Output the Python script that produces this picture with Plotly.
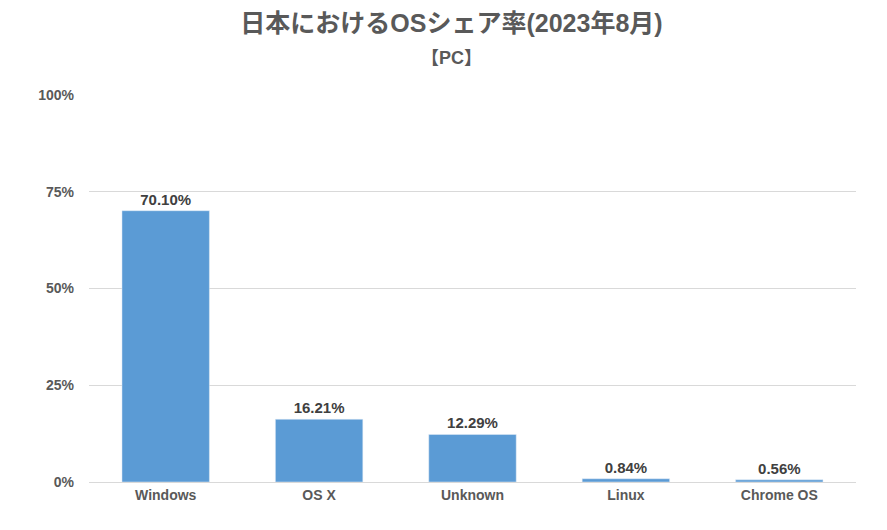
import plotly.graph_objects as go

categories = ["Windows", "OS X", "Unknown", "Linux", "Chrome OS"]
shares = [70.10, 16.21, 12.29, 0.84, 0.56]
labels = ["70.10%", "16.21%", "12.29%", "0.84%", "0.56%"]
tick_vals = [0, 25, 50, 75, 100]
tick_text = ["0%", "25%", "50%", "75%", "100%"]

font = "Liberation Sans, Arial, Noto Sans CJK JP, sans-serif"

fig = go.Figure()
fig.add_trace(go.Bar(
    x=categories, y=shares, text=labels, textposition="outside",
    textfont=dict(size=15, color="#404040", family=font, weight="bold"),
    marker=dict(color="#5B9BD5"), width=0.57, cliponaxis=False,
))

fig.update_layout(
    width=887, height=530,
    paper_bgcolor="white", plot_bgcolor="white",
    margin=dict(l=81, r=39, t=87, b=56),
    title=dict(
        text="<b>日本におけるOSシェア率(2023年8月)</b><br><span style='font-size:18px'><b>【PC】</b></span>",
        x=0.5, xanchor="center", y=0.955, yanchor="top",
        font=dict(size=25, color="#595959", family=font),
    ),
    font=dict(family=font, color="#595959"),
    showlegend=False,
)
fig.update_xaxes(showline=True, linecolor="#d9d9d9",
                 tickfont=dict(size=14, color="#595959", weight="bold"), ticks="")
fig.update_yaxes(range=[0, 100], tickvals=tick_vals, ticktext=tick_text,
                 gridcolor="#d9d9d9", zeroline=False,
                 tickfont=dict(size=14, color="#595959", weight="bold"), ticklabelstandoff=14)

fig.write_html("out.html")
